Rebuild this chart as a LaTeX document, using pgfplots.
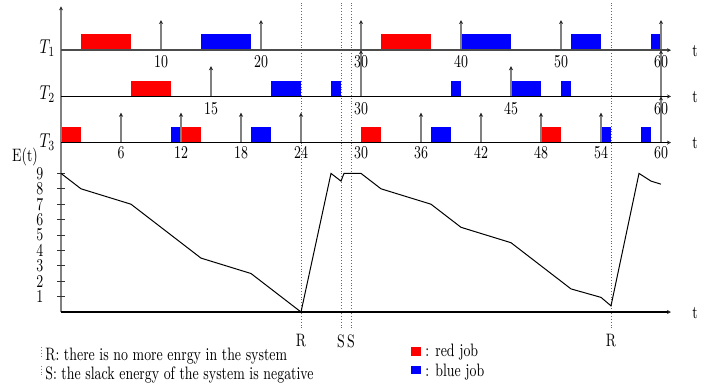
\documentclass[border=0pt]{standalone}
\usepackage{pgfplots}
\pgfplotsset{compat=1.18}
\usetikzlibrary{arrows.meta}
\tikzset{
  lab/.style={font=\fontsize{9}{11}\selectfont, xscale=0.75, inner sep=0pt},
  labT/.style={font=\fontsize{10}{12}\selectfont, xscale=0.75, inner sep=0pt},
  tip/.style={-{Stealth[length=2pt,width=2pt,black!85]}},
}
\newcommand{\job}[5]{\addplot[fill=#5, draw=none] coordinates {(#1,#3) (#2,#3) (#2,#4) (#1,#4)} -- cycle;}
\begin{document}
\begin{tikzpicture}
\begin{axis}[x=5pt, y=7.7pt, xmin=-6.1, xmax=66.3, ymin=-5.05, ymax=20.26,
  hide axis, clip=false]
\coordinate (bl) at (axis cs:-6.1,-5.0);
\coordinate (tr) at (axis cs:66.3,20.26);
% ---- jobs T1
\job{2}{7}{17}{18.04}{red}
\job{14}{19}{17}{18.04}{blue}
\job{32}{37}{17}{18.04}{red}
\job{40}{45}{17}{18.04}{blue}
\job{51}{54}{17}{18.04}{blue}
\job{59}{60}{17}{18.04}{blue}
% ---- jobs T2
\job{7}{11}{14}{15}{red}
\job{21}{24}{14}{15}{blue}
\job{27}{28}{14}{15}{blue}
\job{39}{40}{14}{15}{blue}
\job{45}{48}{14}{15}{blue}
\job{50}{51}{14}{15}{blue}
% ---- jobs T3
\job{0}{2}{11}{12}{red}
\job{11}{12}{11}{12}{blue}
\job{12}{14}{11}{12}{red}
\job{19}{21}{11}{12}{blue}
\job{30}{32}{11}{12}{red}
\job{37}{39}{11}{12}{blue}
\job{48}{50}{11}{12}{red}
\job{54}{55}{11}{12}{blue}
\job{58}{59}{11}{12}{blue}
% ---- dotted markers
\addplot[densely dotted, black!60] coordinates {(24,-1.05) (24,20.05)};
\addplot[densely dotted, black!60] coordinates {(28,-1.05) (28,20.05)};
\addplot[densely dotted, black!60] coordinates {(29,-1.05) (29,20.05)};
\addplot[densely dotted, black!60] coordinates {(55,-1.05) (55,20.05)};
% ---- deadlines
\addplot[black!50, line width=0.6pt, tip, quiver={u=0,v=1.96}] coordinates {(10,17) (20,17) (30,17) (40,17) (50,17) (60,17)};
\addplot[black!50, line width=0.6pt, tip, quiver={u=0,v=1.96}] coordinates {(15,14) (45,14)};
\addplot[black!50, line width=0.6pt, tip, quiver={u=0,v=3}] coordinates {(30,14) (60,14)};
\addplot[black!50, line width=0.6pt, tip, quiver={u=0,v=1.94}] coordinates {(6,11) (12,11) (18,11) (24,11) (36,11) (42,11) (48,11) (54,11)};
\addplot[black!50, line width=0.6pt, tip, quiver={u=0,v=3}] coordinates {(60,11)};
% ---- axes
\addplot[black!50, line width=0.6pt, tip] coordinates {(0,0) (0,19.85)};
\addplot[black!70, line width=0.8pt, tip] coordinates {(0,17) (61,17)};
\addplot[black, line width=0.6pt, tip] coordinates {(0,14) (61,14)};
\addplot[black, line width=0.6pt, tip] coordinates {(0,11) (61,11)};
\addplot[black, line width=0.6pt, tip] coordinates {(0,0) (61,0)};
\addplot[black!80, line width=0.5pt, quiver={u=0.8,v=0}] coordinates {(-0.4,1) (-0.4,2) (-0.4,3) (-0.4,4) (-0.4,5) (-0.4,6) (-0.4,7) (-0.4,8) (-0.4,9)};
% ---- energy curve
\addplot[black, line width=0.5pt] coordinates {
 (0,9) (2,8) (7,7) (14,3.5) (19,2.5) (24,0) (27,9) (28,8.5) (28.3,9) (30,9)
 (32,8) (37,7) (40,5.5) (45,4.5) (51,1.5) (54,0.95) (55,0.4) (57.8,9) (59,8.5) (60,8.3)};
% ---- legend squares
\addplot[fill=red, draw=none] coordinates {(35,-2.25) (36,-2.25) (36,-2.83) (35,-2.83)} -- cycle;
\addplot[fill=blue, draw=none] coordinates {(35,-3.49) (36,-3.49) (36,-4.05) (35,-4.05)} -- cycle;
\addplot[densely dotted, black!50] coordinates {(-2.0,-2.3) (-2.0,-2.95)};
\addplot[densely dotted, black!50] coordinates {(-2.0,-3.5) (-2.0,-4.2)};
% ---- text
\node[labT, anchor=base east] at (axis cs:-0.55,16.8) {$T_1$};
\node[labT, anchor=base east] at (axis cs:-0.55,13.77) {$T_2$};
\node[labT, anchor=base east] at (axis cs:-0.55,10.7) {$T_3$};
\pgfplotsinvokeforeach{10,20,30,40,50,60}{\node[lab, anchor=base] at (axis cs:#1,15.9) {#1};}
\pgfplotsinvokeforeach{15,30,45,60}{\node[lab, anchor=base] at (axis cs:#1,12.85) {#1};}
\pgfplotsinvokeforeach{6,12,18,24,30,36,42,48,54,60}{\node[lab, anchor=base] at (axis cs:#1,9.95) {#1};}
\pgfplotsinvokeforeach{1,...,9}{\node[lab, anchor=east] at (axis cs:-1.75,#1) {#1};}
\node[lab] at (axis cs:-3.6,10.06) {E(t)};
\pgfplotsinvokeforeach{16.95,13.95,10.95,-0.05}{\node[lab] at (axis cs:63.4,#1) {t};}
\node[lab] at (axis cs:24,-1.88) {R};
\node[lab] at (axis cs:28,-1.88) {S};
\node[lab] at (axis cs:29,-1.88) {S};
\node[lab] at (axis cs:55,-1.88) {R};
\node[lab, anchor=base west] at (axis cs:-1.6,-3.12) {R: there is no more enrgy in the system};
\node[lab, anchor=base west] at (axis cs:-1.6,-4.35) {S: the slack energy of the system is negative};
\node[lab, anchor=base west] at (axis cs:36.4,-2.86) {: red job};
\node[lab, anchor=base west] at (axis cs:36.4,-4.16) {: blue job};
\end{axis}
\pgfresetboundingbox
\path[use as bounding box] (bl) rectangle (tr);
\end{tikzpicture}
\end{document}
